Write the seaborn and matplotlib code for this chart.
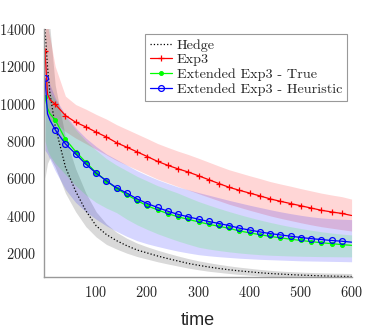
import numpy as np
import pandas as pd
import seaborn as sns
import matplotlib.pyplot as plt

# time steps (markers every 20 steps, extra points early on)
t = [1, 6, 11, 21, 41, 61, 81, 101, 121, 141, 161, 181, 201, 221, 241, 261, 281,
     301, 321, 341, 361, 381, 401, 421, 441, 461, 481, 501, 521, 541, 561, 581, 600]

# Hedge
hedge = [14000, 12000, 10500, 8800, 6600, 5300, 4250, 3450, 2980, 2650, 2380, 2150, 1990,
         1830, 1690, 1560, 1430, 1330, 1240, 1160, 1090, 1030, 980, 930, 890, 860, 830,
         805, 785, 765, 750, 738, 728]
hedge_lo = [6000, 6800, 7100, 6600, 5200, 4200, 3400, 2850, 2450, 2200, 1980, 1800, 1660,
            1520, 1400, 1290, 1180, 1090, 1010, 950, 890, 840, 800, 760, 730, 710, 690,
            675, 660, 650, 640, 635, 630]
hedge_hi = [14500, 14500, 14000, 11000, 8200, 6500, 5200, 4200, 3550, 3100, 2780, 2520, 2320,
            2140, 1980, 1830, 1690, 1570, 1470, 1380, 1300, 1230, 1170, 1110, 1060, 1020,
            990, 965, 945, 925, 910, 900, 890]

# Exp3
exp3 = [12820, 10500, 10200, 9970, 9360, 9000, 8750, 8470, 8210, 7900, 7660, 7410, 7160,
        6900, 6690, 6500, 6330, 6130, 5920, 5710, 5510, 5350, 5200, 5050, 4890, 4760, 4640,
        4520, 4400, 4280, 4190, 4110, 4000]
exp3_lo = [11000, 9400, 9100, 9000, 8500, 8150, 7850, 7550, 7250, 6950, 6700, 6450, 6200,
           5950, 5750, 5550, 5370, 5170, 4980, 4790, 4600, 4440, 4280, 4130, 3980, 3850,
           3730, 3610, 3500, 3400, 3320, 3240, 3170]
exp3_hi = [14500, 14200, 13500, 12000, 10400, 9950, 9700, 9420, 9170, 8870, 8620, 8370, 8120,
           7860, 7650, 7450, 7270, 7070, 6860, 6650, 6450, 6290, 6130, 5980, 5820, 5690,
           5570, 5440, 5320, 5200, 5100, 5010, 4880]

# Extended Exp3 - True
ext_true = [10350, 9750, 9450, 9130, 8090, 7430, 6850, 6300, 5860, 5440, 5120, 4800, 4520,
            4300, 4100, 3930, 3790, 3660, 3530, 3420, 3310, 3170, 3070, 2970, 2880, 2800,
            2730, 2660, 2600, 2540, 2490, 2440, 2400]
ext_true_lo = [8000, 7500, 7200, 6800, 6200, 5600, 5100, 4700, 4400, 4150, 3800, 3500, 3250,
               3020, 2820, 2630, 2460, 2300, 2200, 2120, 2050, 1990, 1940, 1900, 1870, 1850,
               1830, 1815, 1805, 1795, 1790, 1785, 1780]
ext_true_hi = [11500, 11000, 10600, 10200, 9300, 8600, 8000, 7500, 7050, 6700, 6400, 6100,
               5850, 5600, 5400, 5200, 4970, 4750, 4560, 4380, 4210, 4050, 3900, 3760, 3630,
               3510, 3400, 3300, 3210, 3130, 3060, 3000, 2960]

# Extended Exp3 - Heuristic
ext_heur = [11350, 9450, 9100, 8600, 7840, 7300, 6750, 6270, 5860, 5480, 5200, 4890, 4640,
            4430, 4230, 4060, 3930, 3800, 3680, 3570, 3460, 3320, 3220, 3120, 3030, 2960,
            2890, 2820, 2760, 2710, 2660, 2620, 2570]
ext_heur_lo = [7500, 7300, 7000, 6400, 5400, 4700, 4200, 3800, 3450, 3150, 2880, 2650, 2480,
               2340, 2210, 2090, 1990, 1900, 1840, 1790, 1750, 1710, 1680, 1650, 1630, 1610,
               1590, 1570, 1560, 1550, 1540, 1530, 1520]
ext_heur_hi = [12600, 11600, 11000, 10300, 9400, 8700, 8150, 7700, 7300, 7000, 6700, 6400,
               6150, 5920, 5720, 5530, 5380, 5230, 5090, 4950, 4810, 4680, 4550, 4430, 4310,
               4200, 4100, 4010, 3930, 3870, 3830, 3800, 3780]

sns.set_style("white")
plt.rcParams['font.family'] = 'cmr10'
plt.rcParams['axes.formatter.use_mathtext'] = True

fig = plt.figure(figsize=(3.83, 3.33), dpi=100)
ax = fig.add_axes([0.116, 0.168, 0.802, 0.745])

# shaded bands
ax.fill_between(t, hedge_lo, hedge_hi, color="k", alpha=0.15, lw=0)
ax.fill_between(t, exp3_lo, exp3_hi, color="r", alpha=0.16, lw=0)
ax.fill_between(t, ext_heur_lo, ext_heur_hi, color="b", alpha=0.16, lw=0)
ax.fill_between(t, ext_true_lo, ext_true_hi, color="#00ff00", alpha=0.14, lw=0)

marks = [0] + list(range(3, 32))
sns.lineplot(x=t, y=hedge, ax=ax, color="k", linestyle=":", lw=0.9, label="Hedge")
sns.lineplot(x=t, y=exp3, ax=ax, color="r", lw=0.9, marker="+", ms=5, mew=0.9,
             mec="r", markevery=marks, label="Exp3")
sns.lineplot(x=t, y=ext_true, ax=ax, color="#00ff00", lw=0.9, marker="o", ms=2.8,
             mec="#00ff00", mfc="#00ff00", markevery=marks, label="Extended Exp3 - True")
sns.lineplot(x=t, y=ext_heur, ax=ax, color="b", lw=0.9, marker="o", ms=4.2, mew=0.9,
             mec="b", mfc="none", markevery=marks, label="Extended Exp3 - Heuristic")

ax.set_xlim(0, 600)
ax.set_ylim(700, 14000)
ax.set_xticks([100, 200, 300, 400, 500, 600])
ax.set_yticks([2000, 4000, 6000, 8000, 10000, 12000, 14000])
ax.tick_params(direction="in", length=3, color="#888888", labelsize=10.3, pad=6)
for s in ["top", "right"]:
    ax.spines[s].set_visible(False)
for s in ["left", "bottom"]:
    ax.spines[s].set_color("#999999")
    ax.spines[s].set_linewidth(1)

ax.set_xlabel("time", family="Liberation Sans", fontsize=13, labelpad=8)

leg = ax.legend(loc="upper right", bbox_to_anchor=(0.985, 0.98), fontsize=10.2,
                frameon=True, fancybox=False, framealpha=1, edgecolor="#999999",
                handlelength=1.6, handletextpad=0.3, borderpad=0.35, labelspacing=0.12,
                borderaxespad=0)
leg.get_frame().set_linewidth(0.8)

plt.savefig("out.png", dpi=100)
